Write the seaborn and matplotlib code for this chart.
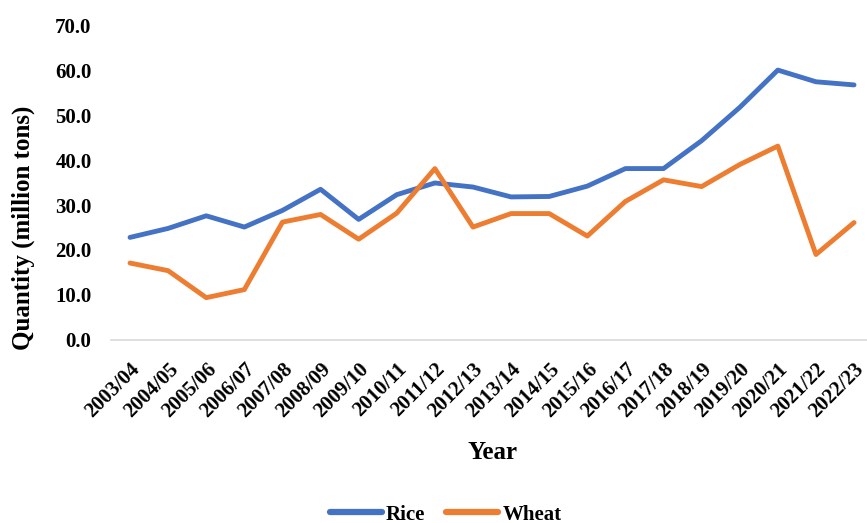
import numpy as np
import pandas as pd
import seaborn as sns
import matplotlib.pyplot as plt

years = ["2003/04", "2004/05", "2005/06", "2006/07", "2007/08", "2008/09",
         "2009/10", "2010/11", "2011/12", "2012/13", "2013/14", "2014/15",
         "2015/16", "2016/17", "2017/18", "2018/19", "2019/20", "2020/21",
         "2021/22", "2022/23"]
rice = [22.8, 24.8, 27.6, 25.1, 28.8, 33.5, 26.8, 32.3, 34.9, 34.0,
        31.8, 31.9, 34.2, 38.1, 38.1, 44.3, 51.7, 60.0, 57.4, 56.7]
wheat = [17.1, 15.4, 9.4, 11.2, 26.2, 27.9, 22.4, 28.2, 38.1, 25.1,
         28.1, 28.1, 23.1, 30.8, 35.6, 34.1, 39.0, 43.1, 19.0, 26.1]

df = pd.DataFrame({"Year": years, "Rice": rice, "Wheat": wheat})
df_long = df.melt(id_vars="Year", var_name="Crop", value_name="Quantity")
df_long["pos"] = df_long["Year"].map({y: i for i, y in enumerate(years)})

sns.set_style("white")
plt.rcParams["font.family"] = ["Liberation Serif", "DejaVu Serif"]
plt.rcParams["font.weight"] = "bold"
plt.rcParams["text.color"] = "black"
plt.rcParams["xtick.color"] = "black"
plt.rcParams["ytick.color"] = "black"
plt.rcParams["axes.labelcolor"] = "black"

fig = plt.figure(figsize=(8.67, 5.23), dpi=100)
ax = fig.add_axes([0.128, 0.35, 0.872, 0.602])

sns.lineplot(data=df_long, x="pos", y="Quantity", hue="Crop",
             palette={"Rice": "#4472C4", "Wheat": "#ED7D31"},
             linewidth=3.5, ax=ax, legend=True)
for l in ax.lines:
    l.set_solid_capstyle("round")
    l.set_solid_joinstyle("round")

ax.set_xlim(-0.5, 19.34)
ax.set_ylim(0, 70)
ax.set_yticks(np.arange(0, 71, 10))
ax.set_yticklabels([f"{v:.1f}" for v in np.arange(0, 71, 10)],
                   fontsize=15, fontweight="bold")
ax.set_xticks(range(len(years)))
ax.set_xticklabels(years, rotation=45, ha="right", rotation_mode="anchor",
                   fontsize=15, fontweight="bold")
ax.tick_params(axis="x", length=0, pad=14)
ax.tick_params(axis="y", length=0, pad=14)

for s in ["top", "right", "left"]:
    ax.spines[s].set_visible(False)
ax.spines["bottom"].set_color("#d9d9d9")
ax.spines["bottom"].set_linewidth(1.2)

ax.set_xlabel("Year", fontsize=18, fontweight="bold")
ax.xaxis.set_label_coords(0.505, -0.32)
ax.set_ylabel("Quantity (million tons)", fontsize=18, fontweight="bold")
ax.yaxis.set_label_coords(-0.1, 0.356)

handles, labels = ax.get_legend_handles_labels()
for h in handles:
    h.set_linewidth(4.5)
ax.legend(handles, labels, loc="center", bbox_to_anchor=(0.514, 0.016),
          bbox_transform=fig.transFigure,
          ncol=2, frameon=False, prop={"size": 15, "weight": "bold"},
          handlelength=2.5, handletextpad=0.2, columnspacing=1.0,
          borderaxespad=0, borderpad=0)

fig.savefig("out.png", dpi=100)
